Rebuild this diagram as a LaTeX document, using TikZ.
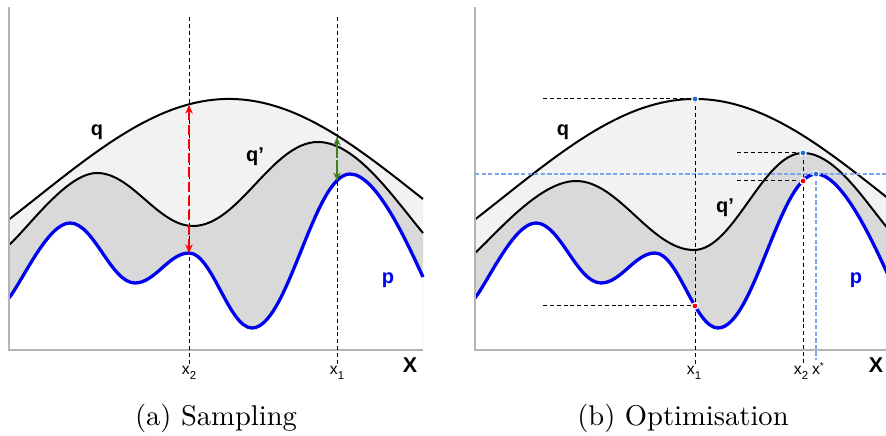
\documentclass[tikz,border=0pt]{standalone}
\usepackage{fontspec}
\usepackage{tikz}
\usetikzlibrary{arrows.meta,positioning,calc}
\usepackage{xcolor}
\newfontfamily\arialfont{Liberation Sans}

\definecolor{lightfill}{HTML}{F2F2F2}
\definecolor{darkfill}{HTML}{D9D9D9}
\definecolor{axisgray}{HTML}{B3B3B3}
\definecolor{pblue}{HTML}{0000F0}
\definecolor{optblue}{HTML}{7BA6EE}
\definecolor{dotblue}{HTML}{1F6FD8}
\definecolor{dotred}{HTML}{F00000}
\definecolor{arrowgreen}{HTML}{3F7F22}

% curves, measured from the y axis of each panel
\newcommand{\qcurve}{plot[domain=0:414, samples=90, smooth] (\x, {350-251*exp(-((\x-220)/100)*((\x-220)/100)/7.4)})}
\newcommand{\qprimesampling}{(0,245) .. controls +(20,-18) and +(-30,0) .. (88,173)
    .. controls +(35,0) and +(-35,0) .. (184,226)
    .. controls +(46,0) and +(-46,0) .. (309,142)
    .. controls +(38,0) and +(-30,-36) .. (414,233)}
\newcommand{\qprimeopt}{(0,253) .. controls +(22,-20) and +(-36,0) .. (101,181)
    .. controls +(43,0) and +(-43,0) .. (219,250)
    .. controls +(40,0) and +(-40,0) .. (328,153)
    .. controls +(32,0) and +(-25,-30) .. (414,230)}
\newcommand{\pcurve}{(0,298) .. controls +(14,-18) and +(-22,0) .. (61,223)
    .. controls +(24,0) and +(-24,0) .. (126,283)
    .. controls +(20,0) and +(-20,0) .. (180,253)
    .. controls +(23,0) and +(-23,0) .. (243,328)
    .. controls +(36,0) and +(-36,0) .. (341,174)
    .. controls +(27,0) and +(-14,-30) .. (414,277)}
\newcommand{\lowidx}[1]{\raisebox{-0.55ex}{\fontsize{4}{4}\selectfont #1}}
\newcommand{\highidx}[1]{\raisebox{0.7ex}{\fontsize{3.5}{4}\selectfont #1}}

\begin{document}
\begin{tikzpicture}[x=0.35pt, y=-0.35pt,
    curve/.style={line width=0.7pt},
    pline/.style={line width=1.15pt, pblue},
    axisline/.style={line width=0.7pt, axisgray},
    guide/.style={line width=0.35pt, dash pattern=on 1.4pt off 1pt},
    optguide/.style={line width=0.6pt, optblue, dash pattern=on 1.5pt off 0.8pt},
    redarrow/.style={{Stealth[length=3pt,width=2.6pt]}-{Stealth[length=3pt,width=2.6pt]}, red, line width=0.9pt, dash pattern=on 3.5pt off 1.5pt},
    greenarrow/.style={{Stealth[length=3pt,width=2.6pt]}-{Stealth[length=3pt,width=2.6pt]}, arrowgreen, line width=0.8pt, dash pattern=on 5.5pt off 0.8pt},
    curvelabel/.style={font=\arialfont\bfseries\fontsize{7}{8}\selectfont, inner sep=0pt},
    ticklabel/.style={font=\arialfont\fontsize{5.5}{6}\selectfont, inner sep=0.6pt, anchor=base},
    caption/.style={font=\fontsize{10}{12}\selectfont, inner sep=0pt},
    bluedot/.style={circle, fill=dotblue, draw=white, line width=0.4pt, inner sep=0pt, minimum size=2.2pt},
    reddot/.style={bluedot, fill=dotred}]
    \useasboundingbox (0,0) rectangle (886,436);

    % (a) sampling
    \begin{scope}[shift={(9,0)}]
        \fill[lightfill] \qcurve -- (414,350) -- (0,350) -- cycle;
        \fill[darkfill] \qprimesampling -- (414,350) -- (0,350) -- cycle;
        \fill[white] \pcurve -- (414,350) -- (0,350) -- cycle;
        \draw[curve] \qcurve;
        \draw[curve] \qprimesampling;
        \draw[pline] \pcurve;
        \draw[axisline] (0,7) -- (0,350) -- (414,350);

        \node[ticklabel] (x2labA) at (180,375) {x\lowidx{2}};
        \node[ticklabel] (x1labA) at (328,375) {x\lowidx{1}};
        \coordinate (x2top) at (180,17);
        \coordinate (x1top) at (328,17);
        \draw[guide] (x2top) -- (x2labA.north);
        \draw[guide] (x1top) -- (x1labA.north);

        \coordinate (qatx2) at (180,105);
        \coordinate (patx2) at (180,253);
        \coordinate (qatx1) at (328,137);
        \coordinate (patx1) at (328,181);
        \draw[redarrow] (qatx2) -- (patx2);
        \draw[greenarrow] (qatx1) -- (patx1);

        \node[curvelabel] (qlabA) at (88,132) {q};
        \node[curvelabel] (qplabA) at (246,157) {q’};
        \node[curvelabel, pblue] (plabA) at (379,280) {p};
        \node[curvelabel, font=\arialfont\bfseries\fontsize{7.5}{8}\selectfont] (XlabA) at (401,365) {X};
    \end{scope}

    % (b) optimisation
    \begin{scope}[shift={(475,0)}]
        \begin{scope}
            \clip (0,0) rectangle (411,436);
            \fill[lightfill] \qcurve -- (414,350) -- (0,350) -- cycle;
            \fill[darkfill] \qprimeopt -- (414,350) -- (0,350) -- cycle;
            \fill[white] \pcurve -- (414,350) -- (0,350) -- cycle;
            \draw[curve] \qcurve;
            \draw[curve] \qprimeopt;
            \draw[pline] \pcurve;
        \end{scope}
        \draw[axisline] (0,7) -- (0,350) -- (411,350);

        \node[ticklabel] (x1labB) at (219,375) {x\lowidx{1}};
        \node[ticklabel] (x2labB) at (326,375) {x\lowidx{2}};
        \node[ticklabel] (xstarlab) at (343,375) {x\highidx{*}};

        \coordinate (qmax) at (220,99);
        \coordinate (pxone) at (220,306);
        \coordinate (qpmax) at (328,153);
        \coordinate (pxtwo) at (328,181);
        \coordinate (pmax) at (341,174);
        \coordinate (qmaxlevel) at (68,99);
        \coordinate (pxonelevel) at (68,306);
        \coordinate (qpmaxlevel) at (262,153);
        \coordinate (pxtwolevel) at (262,181);
        \coordinate (optleft) at (0,174);
        \coordinate (optright) at (411,174);

        \draw[optguide] (optleft) -- (optright);
        \draw[optguide, line width=0.4pt] (pmax) -- (pmax |- xstarlab.north);
        \draw[guide] (qmaxlevel) -- (qmax);
        \draw[guide] (pxonelevel) -- (pxone);
        \draw[guide] (qmax) -- (qmax |- x1labB.north);
        \draw[guide] (qpmaxlevel) -- (qpmax);
        \draw[guide] (pxtwolevel) -- (pxtwo);
        \draw[guide] (qpmax) -- (qpmax |- x2labB.north);

        \node[bluedot] (qmaxdot) at (qmax) {};
        \node[reddot] (pxonedot) at (pxone) {};
        \node[bluedot] (qpmaxdot) at (qpmax) {};
        \node[reddot] (pxtwodot) at (pxtwo) {};
        \node[bluedot] (pmaxdot) at (pmax) {};

        \node[curvelabel] (qlabB) at (88,132) {q};
        \node[curvelabel] (qplabB) at (250,208) {q’};
        \node[curvelabel, pblue] (plabB) at (381,280) {p};
        \node[curvelabel, font=\arialfont\bfseries\fontsize{7.5}{8}\selectfont] (XlabB) at (401,365) {X};
    \end{scope}

    \node[caption] (capA) at (216,418) {(a) Sampling};
    \node[caption] (capB) at (683,418) {(b) Optimisation};
\end{tikzpicture}
\end{document}
